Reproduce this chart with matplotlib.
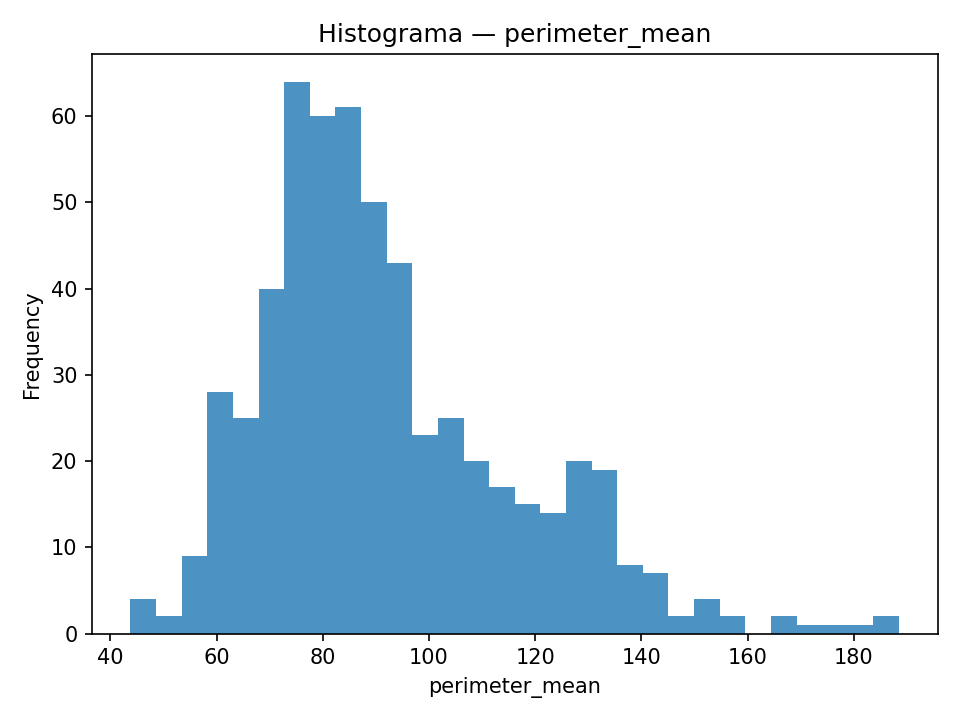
import numpy as np
import matplotlib
matplotlib.use("Agg")
import matplotlib.pyplot as plt

data_min = 43.79
data_max = 188.5
counts = [4, 2, 9, 28, 25, 40, 64, 60, 61, 50, 43, 23, 25, 20, 17, 15, 14, 20, 19, 8,
          7, 2, 4, 2, 0, 2, 1, 1, 1, 2]

edges = np.linspace(data_min, data_max, len(counts) + 1)
centers = (edges[:-1] + edges[1:]) / 2

fig, ax = plt.subplots(figsize=(6.4, 4.8), dpi=150)
ax.hist(centers, bins=edges, weights=counts, color="C0", alpha=0.8)
ax.set_title("Histograma — perimeter_mean")
ax.set_xlabel("perimeter_mean")
ax.set_ylabel("Frequency")
fig.tight_layout()
fig.savefig("out.png")
